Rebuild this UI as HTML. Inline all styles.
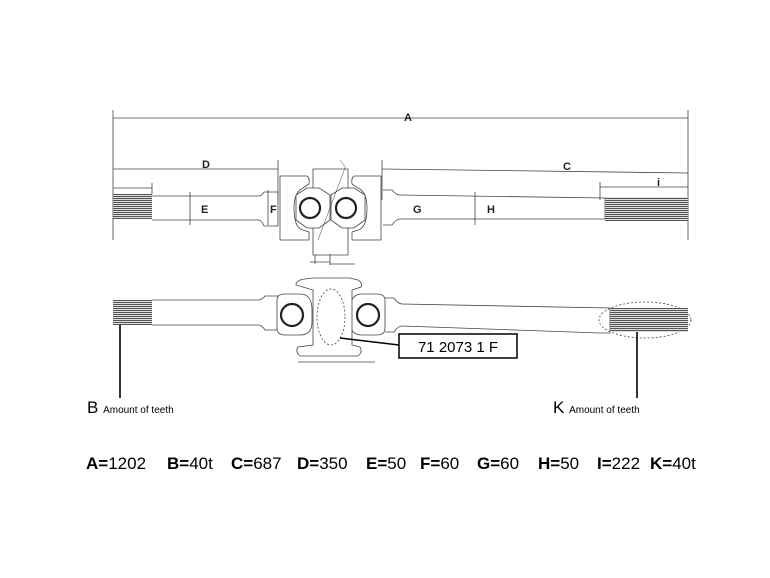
<!DOCTYPE html>
<html><head><style>
html,body{margin:0;padding:0;background:#fff;}
svg{display:block;}
.b{font-family:"Liberation Sans",Arial,sans-serif;font-size:17px;fill:#000;}
.lbl{font-family:"Liberation Sans",Arial,sans-serif;font-weight:bold;font-size:11px;fill:#222;}
.s{font-family:"Liberation Sans",Arial,sans-serif;font-size:4px;fill:#555;}
</style></head><body>
<svg width="770" height="578" viewBox="0 0 770 578" xmlns="http://www.w3.org/2000/svg">
<defs>
<pattern id="sp" width="3" height="2" patternUnits="userSpaceOnUse">
<rect width="3" height="2" fill="#ddd"/><rect width="3" height="1" fill="#555"/>
</pattern>
</defs>
<g stroke="#444" stroke-width="0.8" fill="none">
<!-- dimension lines -->
<line x1="113" y1="118" x2="688" y2="118"/>
<line x1="113" y1="110" x2="113" y2="240"/>
<line x1="688" y1="110" x2="688" y2="240"/>
<line x1="113" y1="169" x2="278" y2="169"/>
<line x1="278" y1="160" x2="278" y2="200"/>
<line x1="382" y1="169" x2="688" y2="173"/>
<line x1="382" y1="160" x2="382" y2="200"/>
<line x1="600" y1="187" x2="688" y2="187"/>
<line x1="600" y1="182" x2="600" y2="200"/>
<line x1="113" y1="188" x2="152" y2="188"/>
<line x1="152" y1="183" x2="152" y2="194"/>
<line x1="190" y1="192" x2="190" y2="225"/>
<line x1="475" y1="192" x2="475" y2="225"/>
<line x1="268" y1="190" x2="268" y2="225"/>
<!-- upper shaft -->
<path d="M152 196 H258 Q262 196 264 192 H278 V226 H264 Q262 220 258 220 H152"/>
<path d="M383 190 H392 Q396 195 400 195 L605 198 V219 L400 219 Q396 219 392 225 H383"/>
<!-- housing -->
<path d="M280 176 H307 Q310 178 309 184 L303 188 Q294 192 294 208 Q294 228 303 230 L309 232 V240 H280 Z"/>
<path d="M381 176 H354 Q351 178 352 184 L358 188 Q367 192 367 208 Q367 228 358 230 L352 232 V240 H381 Z"/>
<path d="M313 169 H348 V255 H313 Z"/>
<path d="M296 195 L307 188 H319 L330 195 V220 L319 228 H307 L296 220 Z" fill="#fff"/>
<path d="M331 195 L342 188 H354 L365 195 V220 L354 228 H342 L331 220 Z" fill="#fff"/>
<line x1="315" y1="255" x2="315" y2="264"/><line x1="310" y1="262" x2="330" y2="262"/>
<line x1="330" y1="254" x2="330" y2="265"/><line x1="330" y1="264" x2="355" y2="264"/>
<line x1="318" y1="240" x2="345" y2="168" stroke-width="0.5"/>
<line x1="340" y1="160" x2="346" y2="168" stroke-width="0.5"/>
<!-- lower shaft -->
<path d="M152 300 H258 Q262 300 265 296 H278 V330 H265 Q262 325 258 325 H152"/>
<path d="M385 298 H394 Q398 304 402 304 L610 308 V333 L600 333 L402 326 Q398 326 394 332 H385"/>
<path d="M277 300 Q277 294 285 294 H300 Q312 294 312 310 V322 Q312 335 300 335 H285 Q277 335 277 328 Z" fill="#fff"/>
<path d="M385 300 Q385 294 377 294 H362 Q350 294 350 310 V322 Q350 335 362 335 H377 Q385 335 385 328 Z" fill="#fff"/>
<path d="M296 285 Q296 280 305 279 L313 278 H350 L358 280 Q363 283 361 287 L352 290 V345 L360 347 Q363 352 358 356 H300 Q295 352 298 347 L313 345 V290 Z" fill="#fff"/>
<line x1="298" y1="362" x2="375" y2="362"/>
<ellipse cx="331" cy="317" rx="14" ry="28" stroke-dasharray="2 2"/>
<ellipse cx="645" cy="320" rx="46" ry="18" stroke-dasharray="2 2"/>
</g>
<g stroke="#222" stroke-width="2.2" fill="none">
<circle cx="310" cy="208" r="10"/><circle cx="346" cy="208" r="10"/>
<circle cx="292" cy="315" r="11"/><circle cx="368" cy="315" r="11"/>
</g>
<!-- splines -->
<rect x="113" y="194" width="39" height="25" fill="url(#sp)"/>
<rect x="605" y="197" width="83" height="24" fill="url(#sp)"/>
<rect x="113" y="300" width="39" height="25" fill="url(#sp)"/>
<rect x="610" y="308" width="78" height="24" fill="url(#sp)"/>
<!-- dim labels -->
<text class="lbl" x="404" y="121">A</text>
<text class="lbl" x="202" y="168">D</text>
<text class="lbl" x="563" y="170">C</text>
<text class="lbl" x="657" y="186">i</text>
<text class="lbl" x="201" y="213">E</text>
<text class="lbl" x="270" y="213">F</text>
<text class="lbl" x="413" y="213">G</text>
<text class="lbl" x="487" y="213">H</text>
<!-- callout -->
<line x1="340" y1="338" x2="399" y2="345" stroke="#000" stroke-width="1.5"/>
<rect x="399" y="334" width="118" height="24" fill="#fff" stroke="#000" stroke-width="1.5"/>
<text x="458" y="352" text-anchor="middle" font-family="Liberation Sans,Arial,sans-serif" font-size="15">71 2073 1 F</text>
<line x1="120" y1="325" x2="120" y2="398" stroke="#000" stroke-width="1.6"/>
<line x1="637" y1="332" x2="637" y2="398" stroke="#000" stroke-width="1.6"/>
<text x="87" y="413" font-family="Liberation Sans,Arial,sans-serif" font-size="17">B <tspan font-size="10">Amount of teeth</tspan></text>
<text x="553" y="413" font-family="Liberation Sans,Arial,sans-serif" font-size="17">K <tspan font-size="10">Amount of teeth</tspan></text>
<!-- legend -->
<text class="b" y="469"><tspan x="86" font-weight="bold">A=</tspan>1202<tspan x="167" font-weight="bold">B=</tspan>40t<tspan x="231" font-weight="bold">C=</tspan>687<tspan x="297" font-weight="bold">D=</tspan>350<tspan x="366" font-weight="bold">E=</tspan>50<tspan x="420" font-weight="bold">F=</tspan>60<tspan x="477" font-weight="bold">G=</tspan>60<tspan x="538" font-weight="bold">H=</tspan>50<tspan x="597" font-weight="bold">I=</tspan>222<tspan x="650" font-weight="bold">K=</tspan>40t</text>
</svg>
</body></html>
